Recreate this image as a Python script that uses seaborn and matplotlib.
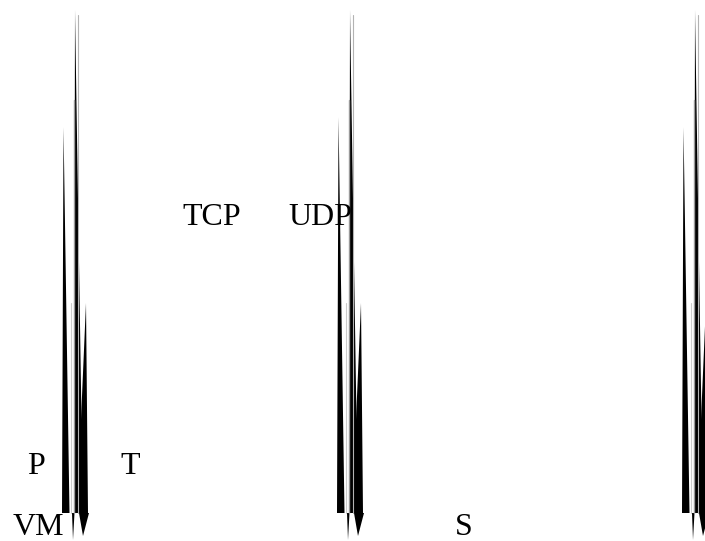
import numpy as np
import matplotlib
matplotlib.use("Agg")
import matplotlib.pyplot as plt
import seaborn as sns

# ========== DATA ==========
# left edge of each spike cluster (pixel-like units on a 705 x 541 canvas)
group_x = [62, 337, 682]
# tip (top) of the three wedges in each cluster
short_top = [127, 117, 127]
tall_top = [10, 10, 10]
mid_top = [303, 303, 303]
base_y = 513          # where the wedges end
arrow_tip_y = 536     # point of the arrow heads below the base

# scattered labels: text, x, baseline y
labels = ["TCP", "UDP", "P", "T", "VM", "S"]
label_x = [182, 288, 27, 120, 13, 455]
label_y = [225, 225, 474, 474, 535, 535]

# ========== STYLE ==========
sns.set_theme(style="white")
plt.rcParams["font.family"] = ["Liberation Serif", "DejaVu Serif"]

fig = plt.figure(figsize=(7.05, 5.41), dpi=100)
ax = fig.add_axes([0, 0, 1, 1])
ax.set_xlim(0, 705)
ax.set_ylim(541, 0)
ax.axis("off")


def wedge(ax, tip_x, tip_y, left, right, bottom, **kw):
    ax.fill([tip_x, right, left], [tip_y, bottom, bottom], lw=0, **kw)


for g, x0 in enumerate(group_x):
    # faint guide lines behind the wedges
    ax.plot([x0 + 11.5, x0 + 11.5], [tall_top[g] + 90, base_y], color="0.6", lw=1)
    ax.plot([x0 + 8.5, x0 + 8.5], [mid_top[g], base_y], color="0.8", lw=0.8)
    ax.plot([x0 + 16, x0 + 16], [tall_top[g] + 5, base_y], color="0.7", lw=0.8)
    # short wedge, flat bottom
    wedge(ax, x0 + 1.5, short_top[g], x0, x0 + 7.5, base_y, color="black")
    # tall wedge
    wedge(ax, x0 + 13, tall_top[g], x0 + 12, x0 + 21, base_y, color="black")
    # middle wedge
    wedge(ax, x0 + 24, mid_top[g], x0 + 15, x0 + 26, base_y, color="black")
    # arrow heads hanging below the base
    ax.fill([x0 + 10, x0 + 12.5, x0 + 11], [base_y, base_y, arrow_tip_y + 4],
            color="black", lw=0)
    ax.fill([x0 + 17, x0 + 27, x0 + 21], [base_y, base_y, arrow_tip_y],
            color="black", lw=0)
    # little inner point
    ax.fill([x0 + 14, x0 + 16.5, x0 + 15.5], [base_y, base_y, base_y - 15],
            color="black", lw=0)

for t, x, y in zip(labels, label_x, label_y):
    ax.text(x, y, t, fontsize=23, color="black", ha="left", va="baseline")

fig.savefig("out.png", dpi=100, facecolor="white")
